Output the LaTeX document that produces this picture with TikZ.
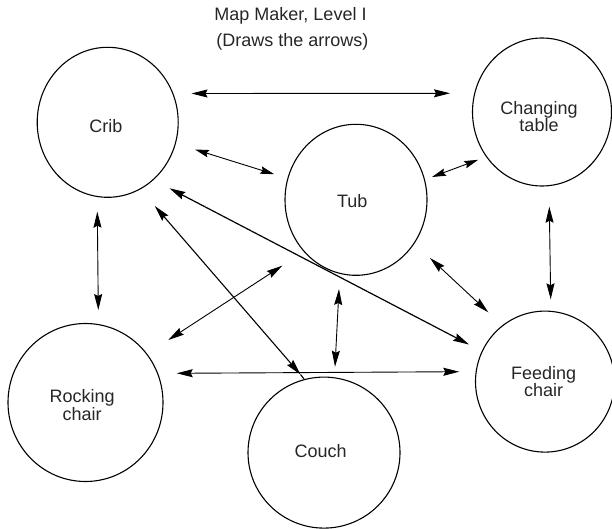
\documentclass[tikz,border=0pt]{standalone}
\usepackage{fontspec}
\setmainfont{Liberation Sans}
\usetikzlibrary{arrows.meta,shapes.geometric}
\begin{document}
\begin{tikzpicture}[x=1pt,y=-1pt,
  blob/.style={draw=black, line width=1.1pt, ellipse, inner sep=0pt},
  lbl/.style={inner sep=0pt, align=center, font=\fontsize{18}{16}\selectfont, text=black!85},
  twoway/.style={{Stealth[length=16pt,width=8pt,inset=2pt]}-{Stealth[length=16pt,width=8pt,inset=2pt]}, line width=0.9pt},
  smallway/.style={{Stealth[length=14pt,width=7.5pt,inset=2pt]}-{Stealth[length=14pt,width=7.5pt,inset=2pt]}, line width=0.9pt}]
\useasboundingbox (0,0) rectangle (612,529);
% title
\node[lbl, anchor=base] (t1) at (290.5,20.7) {Map Maker, Level I};
\node[lbl, anchor=base] (t2) at (292.5,47) {(Draws the arrows)};
% circles
\node[blob, minimum width=141pt, minimum height=150pt] (crib) at (107.7,122.3) {};
\node[blob, minimum width=142pt, minimum height=151pt] (tub) at (356,199.8) {};
\node[blob, minimum width=139pt, minimum height=148pt] (chg) at (542,112) {};
\node[blob, minimum width=155pt, minimum height=158pt] (rock) at (85.5,402.5) {};
\node[blob, minimum width=152pt, minimum height=151pt] (couch) at (324,452.6) {};
\node[blob, minimum width=139pt, minimum height=141pt] (feed) at (545,381.6) {};
% labels
\node[lbl, anchor=base] (lcrib) at (105.8,132.3) {Crib};
\node[lbl, anchor=base] (ltub) at (352.3,207.3) {Tub};
\node[lbl] (lchg) at (539,116.5) {Changing\\table};
\node[lbl] (lrock) at (82.2,404.9) {Rocking\\chair};
\node[lbl, anchor=base] (lcouch) at (320.7,457.3) {Couch};
\node[lbl] (lfeed) at (543.7,381.6) {Feeding\\chair};
% arrow ends
\coordinate (a1s) at (191.5,93.5);  \coordinate (a1e) at (450,93.3);
\coordinate (a2s) at (195,149.5);   \coordinate (a2e) at (274.2,174.2);
\coordinate (a3s) at (432,177);     \coordinate (a3e) at (478.2,159.8);
\coordinate (a4s) at (169.5,188.3); \coordinate (a4e) at (469,344.5);
\coordinate (a5s) at (154.8,206);   \coordinate (a5e) at (300.5,374.5);
\coordinate (a5t) at (304,379);
\coordinate (a6s) at (168.3,340);   \coordinate (a6e) at (282.3,265.7);
\coordinate (a7s) at (339,289);     \coordinate (a7e) at (335,366.7);
\coordinate (a8s) at (430,258);     \coordinate (a8e) at (488.3,312.3);
\coordinate (a9s) at (176.7,373.3); \coordinate (a9e) at (459.3,371.7);
\coordinate (a10s) at (97.3,211.7); \coordinate (a10e) at (98.3,310);
\coordinate (a11s) at (549.3,206.7);\coordinate (a11e) at (550.7,299.3);
% arrows
\draw[twoway] (a1s) -- (a1e);
\draw[smallway] (a2s) -- (a2e);
\draw[smallway] (a3s) -- (a3e);
\draw[twoway, line width=1.2pt] (a4s) -- (a4e);
\draw[twoway, line width=1.1pt] (a5s) -- (a5e);
\draw[line width=1.1pt] (a5e) -- (a5t);
\draw[twoway] (a6s) -- (a6e);
\draw[twoway] (a7s) -- (a7e);
\draw[twoway] (a8s) -- (a8e);
\draw[twoway] (a9s) -- (a9e);
\draw[twoway] (a10s) -- (a10e);
\draw[twoway] (a11s) -- (a11e);
\end{tikzpicture}
\end{document}
